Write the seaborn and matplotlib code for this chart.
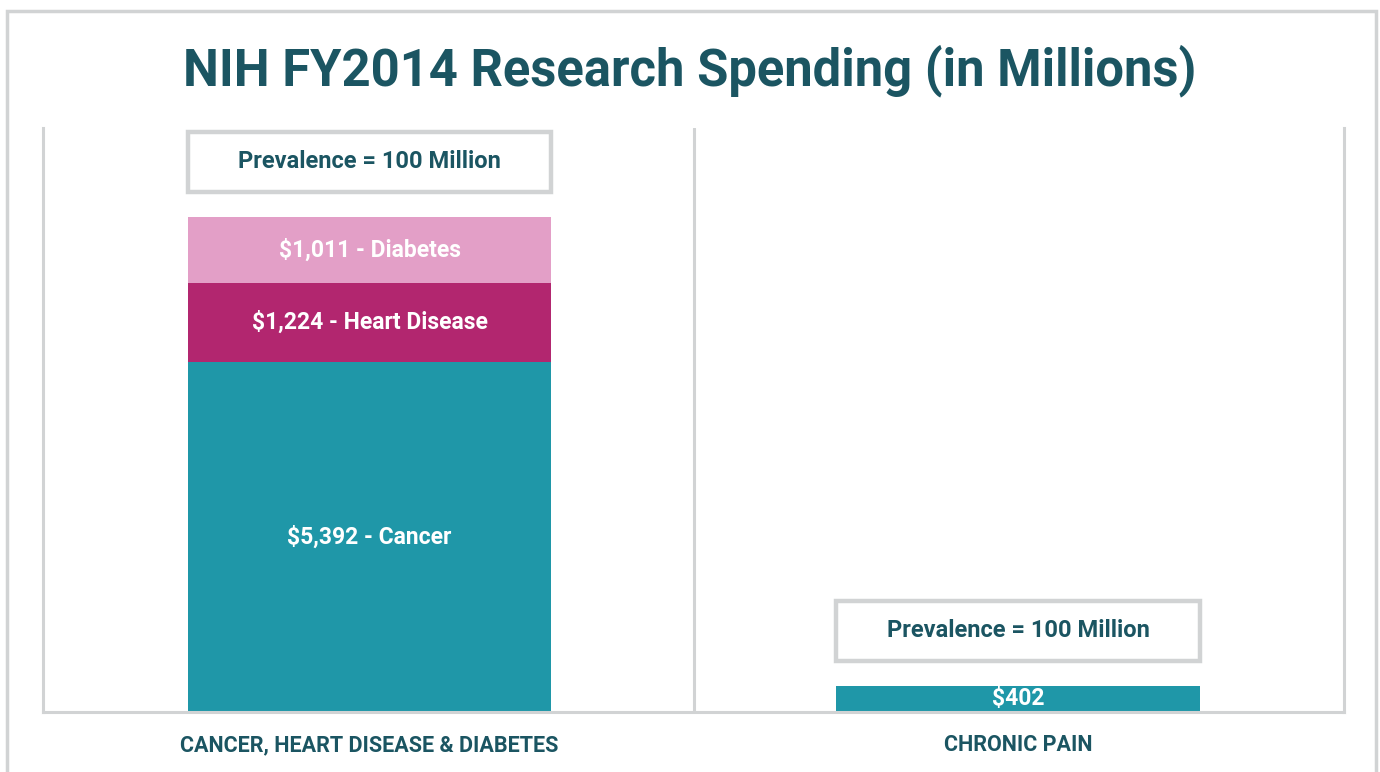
import matplotlib
matplotlib.use("Agg")
import matplotlib.pyplot as plt
from matplotlib import font_manager
from matplotlib.patches import Rectangle
import seaborn as sns
import pandas as pd

# ---- data ----
categories = ["CANCER, HEART DISEASE & DIABETES", "CHRONIC PAIN"]
left_segments = ["Cancer", "Heart Disease", "Diabetes"]
left_values = [5392, 1224, 1011]
right_segments = [""]
right_values = [402]
prevalence_labels = ["Prevalence = 100 Million", "Prevalence = 100 Million"]
title = "NIH FY2014 Research Spending (in Millions)"

# ---- style ----
sns.set_theme(style="white")
names = {f.name for f in font_manager.fontManager.ttflist}
fam = "Liberation Sans Narrow" if "Liberation Sans Narrow" in names else "Roboto"
plt.rcParams["font.family"] = [fam, "DejaVu Sans"]

TEAL = "#1f97a8"
MAGENTA = "#b2266f"
PINK = "#e39fc7"
DARK = "#1b5562"
GRAY = "#d1d3d4"
seg_colors = {"Cancer": TEAL, "Heart Disease": MAGENTA, "Diabetes": PINK, "": TEAL}

rows = []
for cat, segs, vals in [(categories[0], left_segments, left_values),
                        (categories[1], right_segments, right_values)]:
    bottom = 0
    for s, v in zip(segs, vals):
        rows.append(dict(category=cat, segment=s, value=v, bottom=bottom, top=bottom + v))
        bottom += v
df = pd.DataFrame(rows)

fig = plt.figure(figsize=(13.8, 7.72), dpi=100)
AX_H = 584
ax = fig.add_axes([43 / 1380, 60 / 772, 1301 / 1380, AX_H / 772])

BAR_W = 0.56
# draw layers from the top down so each one covers the part below it
order_layers = df.sort_values("top", ascending=False)
for _, r in order_layers.iterrows():
    sub = pd.DataFrame({"category": [r["category"]], "top": [r["top"]]})
    sns.barplot(data=sub, x="category", y="top", order=categories, color=seg_colors[r["segment"]],
                width=BAR_W, ax=ax, saturation=1, edgecolor="none", linewidth=0)

ax.set_xlim(-0.5035, 1.5027)
ymax = AX_H * 5392 / 350
ax.set_ylim(0, ymax)

# segment labels
for _, r in df.iterrows():
    xi = categories.index(r["category"])
    txt = f"${r['value']:,}" + (f" - {r['segment']}" if r["segment"] else "")
    ax.text(xi, (r["bottom"] + r["top"]) / 2, txt, ha="center", va="center",
            color="white", fontsize=16.5, fontweight="bold")

# prevalence boxes above each bar
px = ymax / AX_H
totals = df.groupby("category")["top"].max()
for xi, cat in enumerate(categories):
    y0 = totals[cat] + 25 * px
    h = 60 * px
    ax.add_patch(Rectangle((xi - BAR_W / 2, y0), BAR_W, h, facecolor="white",
                           edgecolor=GRAY, linewidth=3.2, clip_on=False))
    ax.text(xi, y0 + h / 2, prevalence_labels[xi], ha="center", va="center",
            color=DARK, fontsize=17, fontweight="bold")

# axes styling
ax.set_xlabel("")
ax.set_ylabel("")
ax.set_yticks([])
ax.tick_params(axis="x", length=0, pad=16, labelsize=15.5, labelcolor=DARK)
for lbl in ax.get_xticklabels():
    lbl.set_fontweight("bold")
for side in ["left", "right", "bottom"]:
    ax.spines[side].set_visible(True)
    ax.spines[side].set_color(GRAY)
    ax.spines[side].set_linewidth(2.2)
ax.spines["top"].set_visible(False)
ax.axvline(0.5, color=GRAY, linewidth=2.2)

# outer frame
fig.patches.append(Rectangle((7 / 1380, -0.05), 1369 / 1380, 1.05 - 11 / 772,
                             transform=fig.transFigure, facecolor="none",
                             edgecolor=GRAY, linewidth=2.5))

fig.text(0.5, 1 - 71 / 772, title, ha="center", va="center", color=DARK,
         fontsize=36.5, fontweight="bold")

fig.savefig("out.png", dpi=100, facecolor="white")
